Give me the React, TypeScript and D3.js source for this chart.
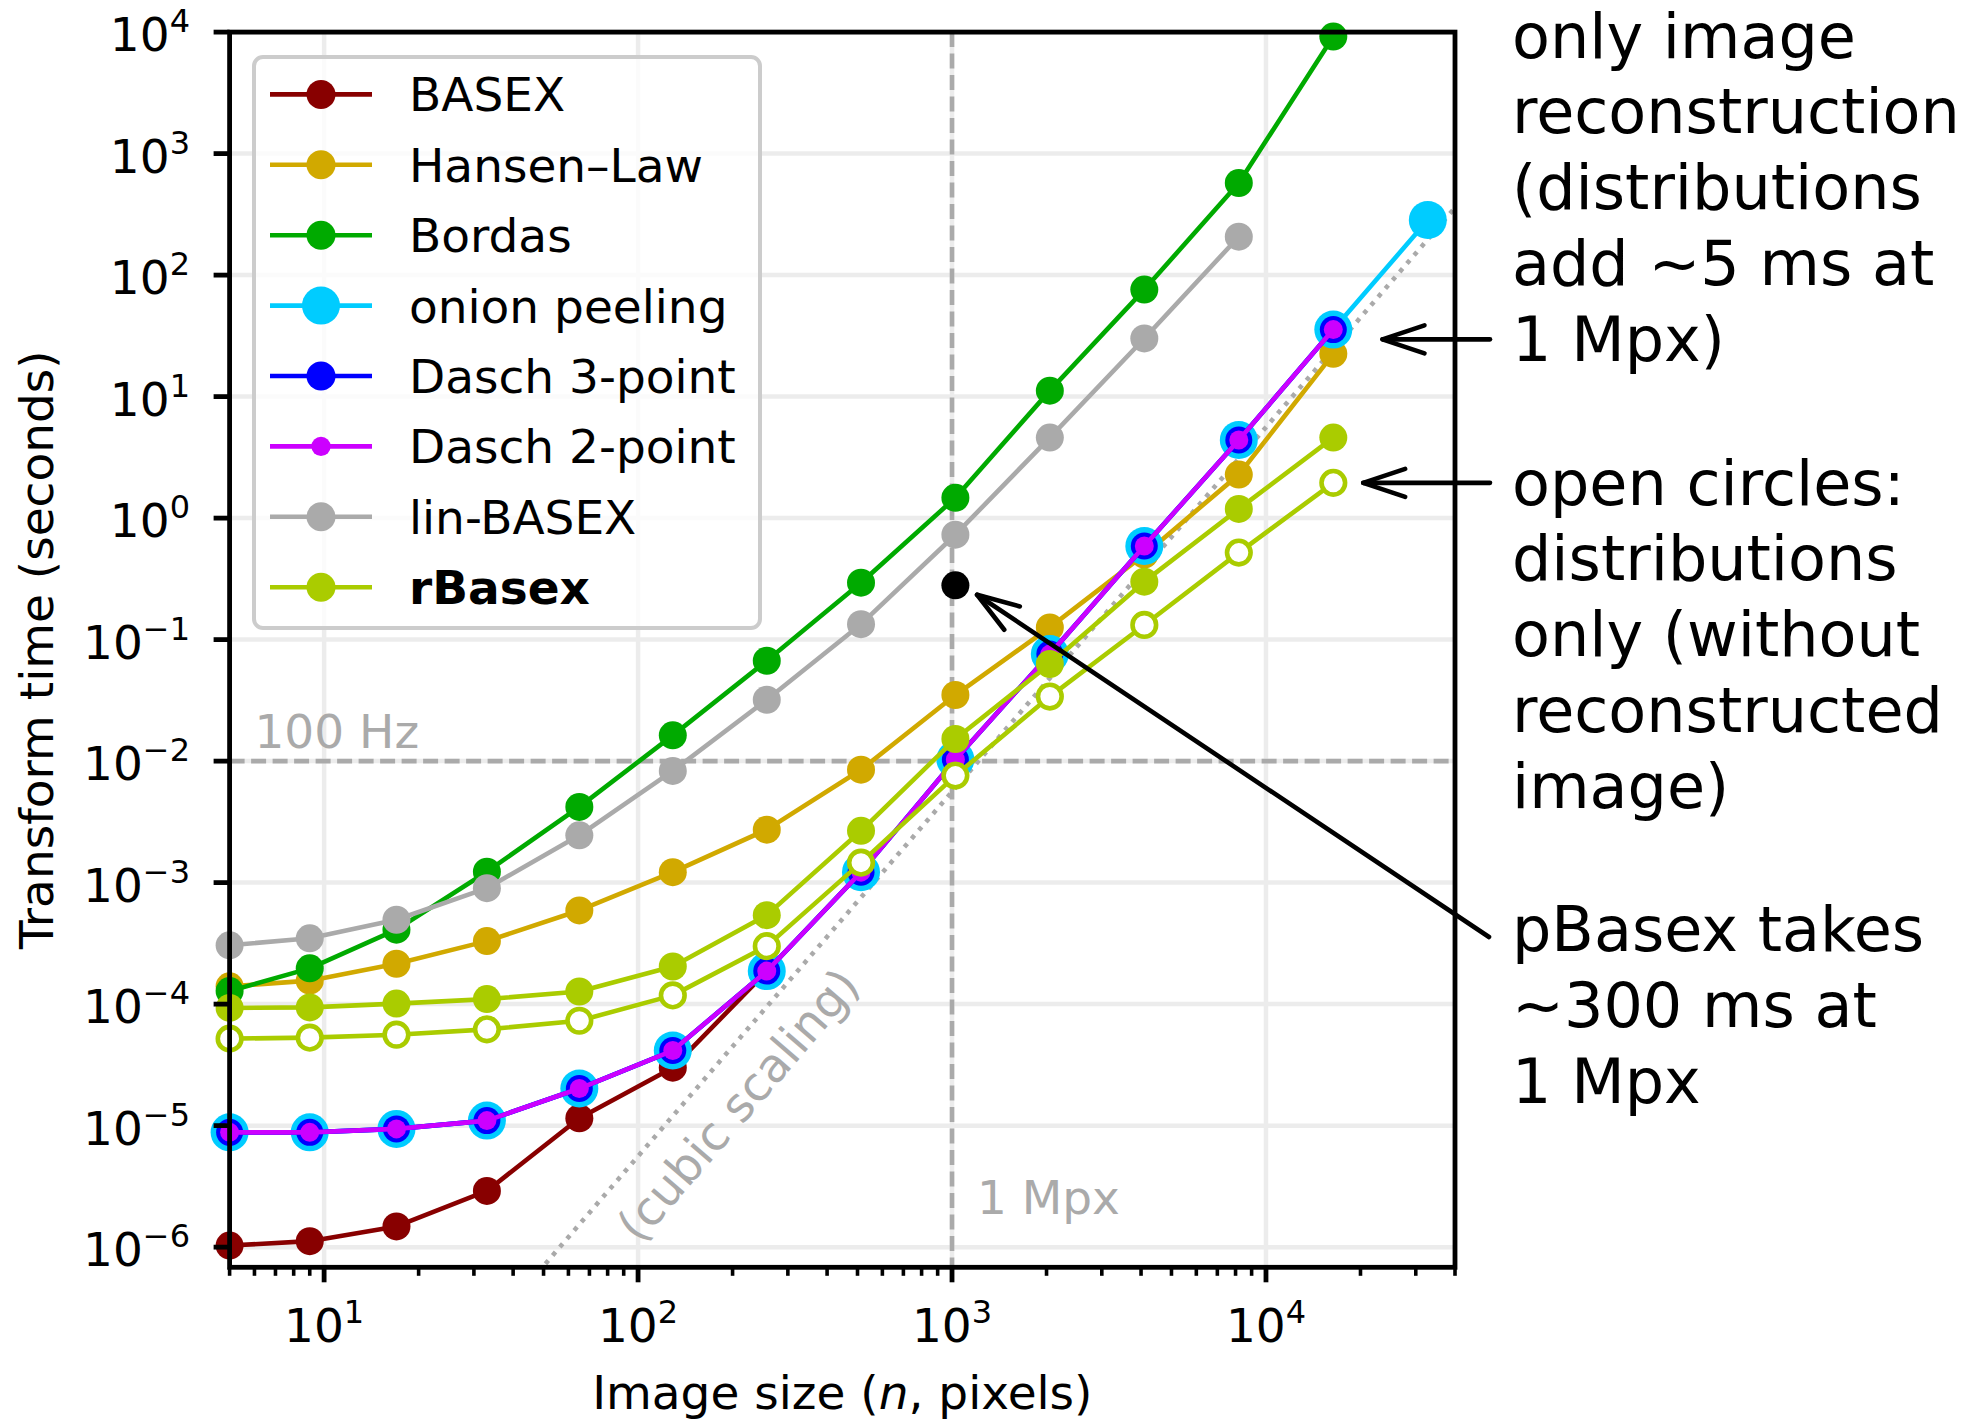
import React from 'react';
import * as d3 from 'd3';

// image sizes n (pixels), n = 2^k + 1
const sizes = [5, 9, 17, 33, 65, 129, 257, 513, 1025, 2049, 4097, 8193, 16385, 32769];

// transform times in seconds
const basex = [1.03e-6, 1.12e-6, 1.48e-6, 2.9e-6, 1.15e-5, 3.0e-5, 1.86e-4];
const hansenLaw = [1.4e-4, 1.56e-4, 2.15e-4, 3.3e-4, 5.9e-4, 1.22e-3, 2.73e-3, 8.5e-3, 3.5e-2, 1.26e-1, 5.0e-1, 2.28, 22.5];
const bordas = [1.28e-4, 1.97e-4, 4.1e-4, 1.23e-3, 4.2e-3, 1.63e-2, 6.7e-2, 2.94e-1, 1.47, 11.2, 76, 573, 9180];
const onionPeeling = [8.8e-6, 8.8e-6, 9.4e-6, 1.1e-5, 2.02e-5, 4.15e-5, 1.87e-4, 1.22e-3, 1.03e-2, 7.6e-2, 5.9e-1, 4.4, 35.6, 284];
const dasch3 = [8.8e-6, 8.8e-6, 9.4e-6, 1.1e-5, 2.02e-5, 4.15e-5, 1.87e-4, 1.22e-3, 1.03e-2, 7.6e-2, 5.9e-1, 4.4, 35.6];
const dasch2 = [8.8e-6, 8.8e-6, 9.4e-6, 1.1e-5, 2.02e-5, 4.15e-5, 1.87e-4, 1.22e-3, 1.03e-2, 7.6e-2, 5.9e-1, 4.4, 35.6];
const linBasex = [3.05e-4, 3.48e-4, 4.95e-4, 9.0e-4, 2.45e-3, 8.3e-3, 3.2e-2, 1.34e-1, 7.3e-1, 4.6, 30.1, 207];
const rBasex = [9.3e-5, 9.4e-5, 1.01e-4, 1.1e-4, 1.27e-4, 2.04e-4, 5.4e-4, 2.67e-3, 1.52e-2, 6.3e-2, 3.0e-1, 1.19, 4.6];
const rBasexDistOnly = [5.2e-5, 5.3e-5, 5.6e-5, 6.2e-5, 7.3e-5, 1.18e-4, 3.0e-4, 1.46e-3, 7.6e-3, 3.4e-2, 1.32e-1, 5.2e-1, 1.95];
const pBasex = { n: 1025, t: 0.28 };

// reference lines
const cubicCoef = 5.6e-12; // t = k n^3
const cubicRange = [5, 4e4];
const hzLine = 1e-2;
const mpxLine = 1000;

const xTicks = [10, 100, 1000, 10000];
const yTicks = [-6, -5, -4, -3, -2, -1, 0, 1, 2, 3, 4];

const series = [
  { name: 'BASEX', color: '#880000', values: basex, r: 14 },
  { name: 'Hansen\u2013Law', color: '#d1a900', values: hansenLaw, r: 14 },
  { name: 'Bordas', color: '#00aa00', values: bordas, r: 14 },
  { name: 'onion peeling', color: '#00ccff', values: onionPeeling, r: 19 },
  { name: 'Dasch 3-point', color: '#0000ff', values: dasch3, r: 13.5 },
  { name: 'Dasch 2-point', color: '#cc00ff', values: dasch2, r: 9.5 },
  { name: 'lin-BASEX', color: '#aaaaaa', values: linBasex, r: 14 },
  { name: 'rBasex', color: '#aacc00', values: rBasex, r: 14 },
];

const W = 1978;
const H = 1419;
const font = '"DejaVu Sans", sans-serif';

const left = 229.6, right = 1455, top = 32.1, bottom = 1267.3;

function arrowHead(tx: number, ty: number, fx: number, fy: number, len = 42, half = 14) {
  const dx = fx - tx, dy = fy - ty;
  const d = Math.sqrt(dx * dx + dy * dy);
  const ux = dx / d, uy = dy / d;
  const ax = tx + ux * len - uy * half, ay = ty + uy * len + ux * half;
  const bx = tx + ux * len + uy * half, by = ty + uy * len - ux * half;
  return `M${ax},${ay}L${tx},${ty}L${bx},${by}`;
}

const sup = (e: number) => (e < 0 ? '\u2212' + Math.abs(e) : String(e));

export default function App() {
  const x = d3.scaleLog().domain([5, 4e4]).range([left, right]);
  const y = d3.scaleLog().domain([Math.pow(10, -6.166), 1e4]).range([bottom, top]);

  const line = d3.line<[number, number]>().x(d => x(d[0])).y(d => y(d[1]));
  const pts = (vals: number[]) => vals.map((v, i) => [sizes[i], v] as [number, number]);

  const minorTicks: number[] = [];
  for (let p = 0; p <= 4; p++) {
    for (let m = 2; m <= 9; m++) {
      const v = m * Math.pow(10, p);
      if (v >= 5 && v <= 4e4) minorTicks.push(v);
    }
  }

  const decX = x(10) - x(1);
  const decY = y(1) - y(10);
  const cubicAngle = -Math.atan((3 * decY) / decX) * 180 / Math.PI;
  const cubicPts = cubicRange.map(n => [n, cubicCoef * n * n * n] as [number, number]);

  // annotation arrows: tips in data coords, tails out at the right margin
  const arrows = [
    { tip: [2.35e4, 29.6], tail: [1490, null] },
    { tip: [2.04e4, 1.95], tail: [1490, null] },
    { tip: [1202, 0.234], tail: [1489, 937] },
  ].map(a => {
    const tx = x(a.tip[0] as number), ty = y(a.tip[1] as number);
    const fx = a.tail[0] as number;
    const fy = a.tail[1] === null ? ty : (a.tail[1] as number);
    return { tx, ty, fx, fy };
  });

  const noteLines = [
    { lines: ['only image', 'reconstruction', '(distributions', 'add \u223c5 ms at', '1 Mpx)'], y0: 57.5 },
    { lines: ['open circles:', 'distributions', 'only (without', 'reconstructed', 'image)'], y0: 504.5 },
    { lines: ['pBasex takes', '\u223c300 ms at', '1 Mpx'], y0: 951.3 },
  ];

  const legendX = 254, legendY = 57, legendW = 506, legendH = 571;
  const rowY = (i: number) => 94.4 + i * 70.4;

  return (
    <svg width={W} height={H} style={{ position: 'absolute', left: 0, top: 0, background: '#fff' }}
      fontFamily={font}>
      <defs>
        <clipPath id="plotClip">
          <rect x={left} y={top} width={right - left} height={bottom - top} />
        </clipPath>
      </defs>
      <rect x={0} y={0} width={W} height={H} fill="#fff" />

      {/* grid */}
      <g stroke="#ececec" strokeWidth={4.5}>
        {xTicks.map(t => <line key={'gx' + t} x1={x(t)} x2={x(t)} y1={top} y2={bottom} />)}
        {yTicks.map(e => <line key={'gy' + e} x1={left} x2={right} y1={y(Math.pow(10, e))} y2={y(Math.pow(10, e))} />)}
      </g>

      {/* reference lines */}
      <line x1={left} x2={right} y1={y(hzLine)} y2={y(hzLine)} stroke="#aaaaaa" strokeWidth={4.6} strokeDasharray="15,6.5" />
      <line x1={x(mpxLine)} x2={x(mpxLine)} y1={top} y2={bottom} stroke="#aaaaaa" strokeWidth={4.6} strokeDasharray="15,6.5" />
      <path d={line(cubicPts) || ''} clipPath="url(#plotClip)" fill="none" stroke="#aaaaaa" strokeWidth={4.6} strokeDasharray="4.4,6.6" />
      <text x={x(6)} y={y(1.28e-2)} fontSize={47} fill="#aaaaaa">100 Hz</text>
      <text x={x(1200)} y={y(1.89e-6)} fontSize={47} fill="#aaaaaa">1 Mpx</text>
      <text transform={`translate(${x(208)},${y(1.48e-5)}) rotate(${cubicAngle})`} textAnchor="middle"
        dominantBaseline="central" fontSize={47} fill="#aaaaaa">(cubic scaling)</text>

      {/* data */}
      {series.map(s => (
        <g key={s.name}>
          <path d={line(pts(s.values)) || ''} fill="none" stroke={s.color} strokeWidth={4.6} strokeLinejoin="round" />
          {pts(s.values).map((p, i) => (
            <circle key={i} cx={x(p[0])} cy={y(p[1])} r={s.r} fill={s.color} />
          ))}
        </g>
      ))}
      <g>
        <path d={line(pts(rBasexDistOnly)) || ''} fill="none" stroke="#aacc00" strokeWidth={4.6} strokeLinejoin="round" />
        {pts(rBasexDistOnly).map((p, i) => (
          <circle key={i} cx={x(p[0])} cy={y(p[1])} r={11.8} fill="#fff" stroke="#aacc00" strokeWidth={4.6} />
        ))}
      </g>
      <circle cx={x(pBasex.n)} cy={y(pBasex.t)} r={14} fill="#000" />

      {/* spines and ticks */}
      <rect x={left} y={top} width={right - left} height={bottom - top} fill="none" stroke="#000" strokeWidth={4.8} />
      <g stroke="#000">
        {xTicks.map(t => <line key={'tx' + t} x1={x(t)} x2={x(t)} y1={bottom} y2={bottom + 15} strokeWidth={4.8} />)}
        {minorTicks.map(t => <line key={'mx' + t} x1={x(t)} x2={x(t)} y1={bottom} y2={bottom + 8.5} strokeWidth={3.6} />)}
        {yTicks.map(e => <line key={'ty' + e} x1={left - 16} x2={left} y1={y(Math.pow(10, e))} y2={y(Math.pow(10, e))} strokeWidth={4.8} />)}
      </g>
      <g fontSize={47} fill="#000">
        {xTicks.map(t => (
          <text key={'lx' + t} x={x(t)} y={1342} textAnchor="middle">
            10<tspan dy={-19} fontSize={32}>{sup(Math.round(Math.log10(t)))}</tspan>
          </text>
        ))}
        {yTicks.map(e => (
          <text key={'ly' + e} x={190} y={y(Math.pow(10, e)) + 19} textAnchor="end">
            10<tspan dy={-19} fontSize={32}>{sup(e)}</tspan>
          </text>
        ))}
        <text x={(left + right) / 2} y={1409} textAnchor="middle">
          Image size (<tspan fontStyle="italic">n</tspan>, pixels)
        </text>
        <text transform={`translate(53,${(top + bottom) / 2}) rotate(-90)`} textAnchor="middle">
          Transform time (seconds)
        </text>
      </g>

      {/* legend */}
      <g>
        <rect x={legendX} y={legendY} width={legendW} height={legendH} rx={9} ry={9}
          fill="#fff" fillOpacity={0.8} stroke="#cccccc" strokeWidth={4} />
        {series.map((s, i) => (
          <g key={'lg' + s.name}>
            <line x1={270} x2={372} y1={rowY(i)} y2={rowY(i)} stroke={s.color} strokeWidth={4.6} />
            <circle cx={321} cy={rowY(i)} r={s.name === 'onion peeling' ? 19 : s.name === 'Dasch 2-point' ? 9.6 : 14.5} fill={s.color} />
            <text x={409} y={rowY(i) + 17} fontSize={47} fontWeight={s.name === 'rBasex' ? 'bold' : 'normal'}>{s.name}</text>
          </g>
        ))}
      </g>

      {/* annotations */}
      <g stroke="#000" strokeWidth={4.6} fill="none" strokeLinecap="round" strokeLinejoin="round">
        {arrows.map((a, i) => (
          <g key={'ar' + i}>
            <line x1={a.fx} y1={a.fy} x2={a.tx} y2={a.ty} />
            <path d={arrowHead(a.tx, a.ty, a.fx, a.fy)} />
          </g>
        ))}
      </g>
      <g fontSize={62} fill="#000">
        {noteLines.map((b, bi) => b.lines.map((t, li) => (
          <text key={bi + '-' + li} x={1512} y={b.y0 + li * 75.9}>{t}</text>
        )))}
      </g>
    </svg>
  );
}
